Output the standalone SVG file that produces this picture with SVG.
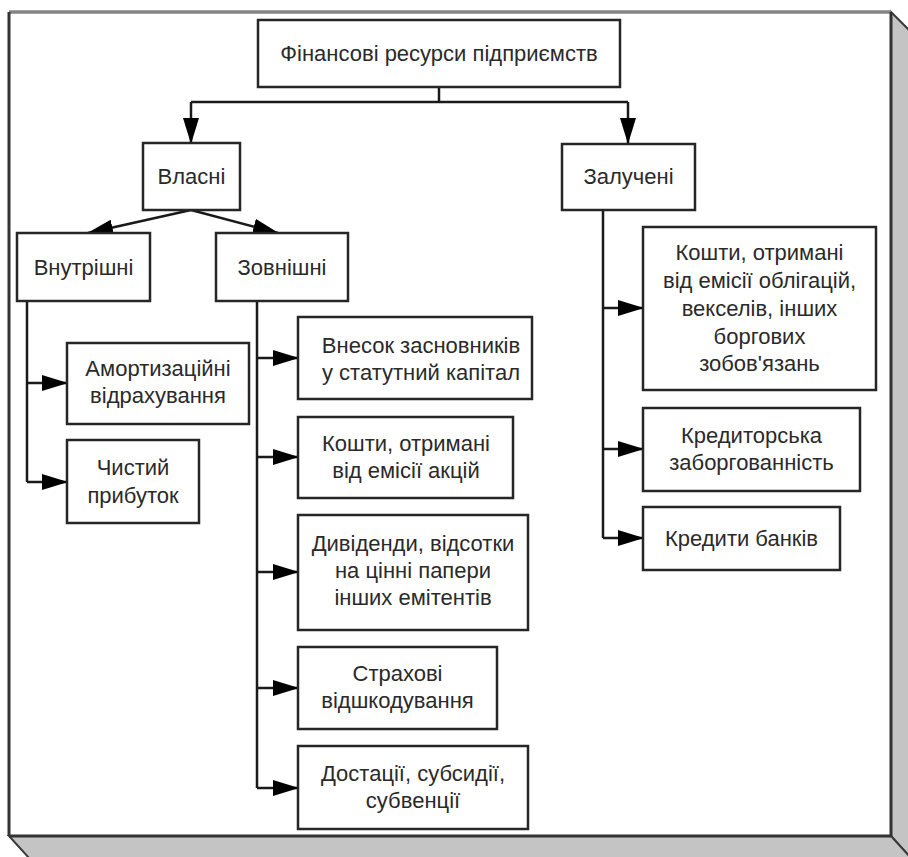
<svg xmlns="http://www.w3.org/2000/svg" width="908" height="857" viewBox="0 0 908 857">
<defs>
<style>
.box{fill:#fff;stroke:#262626;stroke-width:2.5}
.t{font-family:"Liberation Sans",Arial,sans-serif;font-size:22px;fill:#2a2a2a;text-anchor:middle}
.c{fill:none;stroke:#1a1a1a;stroke-width:2.5}
.face{fill:#c4c4c4;stroke:#3a3a3a;stroke-width:2}
</style>
<marker id="ah" markerUnits="userSpaceOnUse" markerWidth="26" markerHeight="16" refX="25" refY="8" orient="auto">
<path d="M0,0 L26,8 L0,16 z" fill="#000"/>
</marker>
</defs>
<rect width="908" height="857" fill="#fff"/>
<g id="frame">
<polygon class="face" points="891,12 911,32 911,858 891,836"/>
<polygon class="face" points="9,836 891,836 911,858 29,858"/>
<rect x="9" y="12" width="882" height="824" fill="#fff" stroke="none"/>
<line x1="9" y1="12" x2="891" y2="12" stroke="#858585" stroke-width="3.5"/>
<line x1="9" y1="12" x2="9" y2="836" stroke="#333" stroke-width="3"/>
<line x1="891" y1="12" x2="891" y2="836" stroke="#333" stroke-width="3"/>
<line x1="9" y1="836" x2="891" y2="836" stroke="#333" stroke-width="3"/>
</g>
<g id="connectors">
<polyline class="c" points="439,87 439,102"/>
<polyline class="c" points="191,102 628,102"/>
<line class="c" x1="191" y1="102" x2="191" y2="143" marker-end="url(#ah)"/>
<line class="c" x1="628" y1="102" x2="628" y2="143" marker-end="url(#ah)"/>
<line class="c" x1="191" y1="210" x2="88" y2="233" marker-end="url(#ah)"/>
<line class="c" x1="191" y1="210" x2="278" y2="233" marker-end="url(#ah)"/>
<polyline class="c" points="27,301 27,482"/>
<polyline class="c" points="27,383 67,383" marker-end="url(#ah)"/>
<polyline class="c" points="27,482 67,482" marker-end="url(#ah)"/>
<polyline class="c" points="257,301 257,788"/>
<polyline class="c" points="257,358 298,358" marker-end="url(#ah)"/>
<polyline class="c" points="257,457 298,457" marker-end="url(#ah)"/>
<polyline class="c" points="257,572 298,572" marker-end="url(#ah)"/>
<polyline class="c" points="257,688 298,688" marker-end="url(#ah)"/>
<polyline class="c" points="257,788 298,788" marker-end="url(#ah)"/>
<polyline class="c" points="603,209 603,538"/>
<polyline class="c" points="603,308 643,308" marker-end="url(#ah)"/>
<polyline class="c" points="603,449 643,449" marker-end="url(#ah)"/>
<polyline class="c" points="603,538 643,538" marker-end="url(#ah)"/>
</g>
<g id="root"><rect class="box" x="258" y="20" width="362" height="67"/><text class="t" x="439" y="61">Фінансові ресурси підприємств</text></g>
<g id="vlasni"><rect class="box" x="143" y="143" width="97" height="67"/><text class="t" x="191.5" y="184">Власні</text></g>
<g id="zalucheni"><rect class="box" x="562" y="144" width="133" height="66"/><text class="t" x="628.5" y="184">Залучені</text></g>
<g id="vnutrishni"><rect class="box" x="17" y="233" width="133" height="68"/><text class="t" x="83.5" y="275">Внутрішні</text></g>
<g id="zovnishni"><rect class="box" x="216" y="233" width="132" height="68"/><text class="t" x="282" y="275">Зовнішні</text></g>
<g id="amort"><rect class="box" x="67" y="343" width="182" height="81"/><text class="t" x="158" y="376">Амортизаційні</text><text class="t" x="158" y="403">відрахування</text></g>
<g id="prybutok"><rect class="box" x="67" y="440" width="132" height="83"/><text class="t" x="133" y="475">Чистий</text><text class="t" x="133" y="503">прибуток</text></g>
<g id="vnesok"><rect class="box" x="298" y="317" width="234" height="82"/><text class="t" x="421" y="353">Внесок засновників</text><text class="t" x="421" y="380">у статутний капітал</text></g>
<g id="aktsii"><rect class="box" x="298" y="417" width="215" height="81"/><text class="t" x="406" y="451">Кошти, отримані</text><text class="t" x="406" y="478">від емісії акцій</text></g>
<g id="dyvidendy"><rect class="box" x="298" y="515" width="230" height="115"/><text class="t" x="413" y="551">Дивіденди, відсотки</text><text class="t" x="413" y="578">на цінні папери</text><text class="t" x="413" y="605">інших емітентів</text></g>
<g id="strakhovi"><rect class="box" x="298" y="647" width="199" height="82"/><text class="t" x="397.5" y="681">Страхові</text><text class="t" x="397.5" y="708">відшкодування</text></g>
<g id="dotatsii"><rect class="box" x="298" y="746" width="230" height="83"/><text class="t" x="413" y="781">Достації, субсидії,</text><text class="t" x="413" y="808">субвенції</text></g>
<g id="oblihatsii"><rect class="box" x="643" y="227" width="233" height="163"/><text class="t" x="759.5" y="260">Кошти, отримані</text><text class="t" x="759.5" y="288">від емісії облігацій,</text><text class="t" x="759.5" y="316">векселів, інших</text><text class="t" x="759.5" y="344">боргових</text><text class="t" x="759.5" y="371">зобов'язань</text></g>
<g id="kredytorska"><rect class="box" x="643" y="408" width="217" height="83"/><text class="t" x="751.5" y="443">Кредиторська</text><text class="t" x="751.5" y="470">заборгованність</text></g>
<g id="kredyty"><rect class="box" x="643" y="507" width="197" height="63"/><text class="t" x="741.5" y="546">Кредити банків</text></g>
</svg>
